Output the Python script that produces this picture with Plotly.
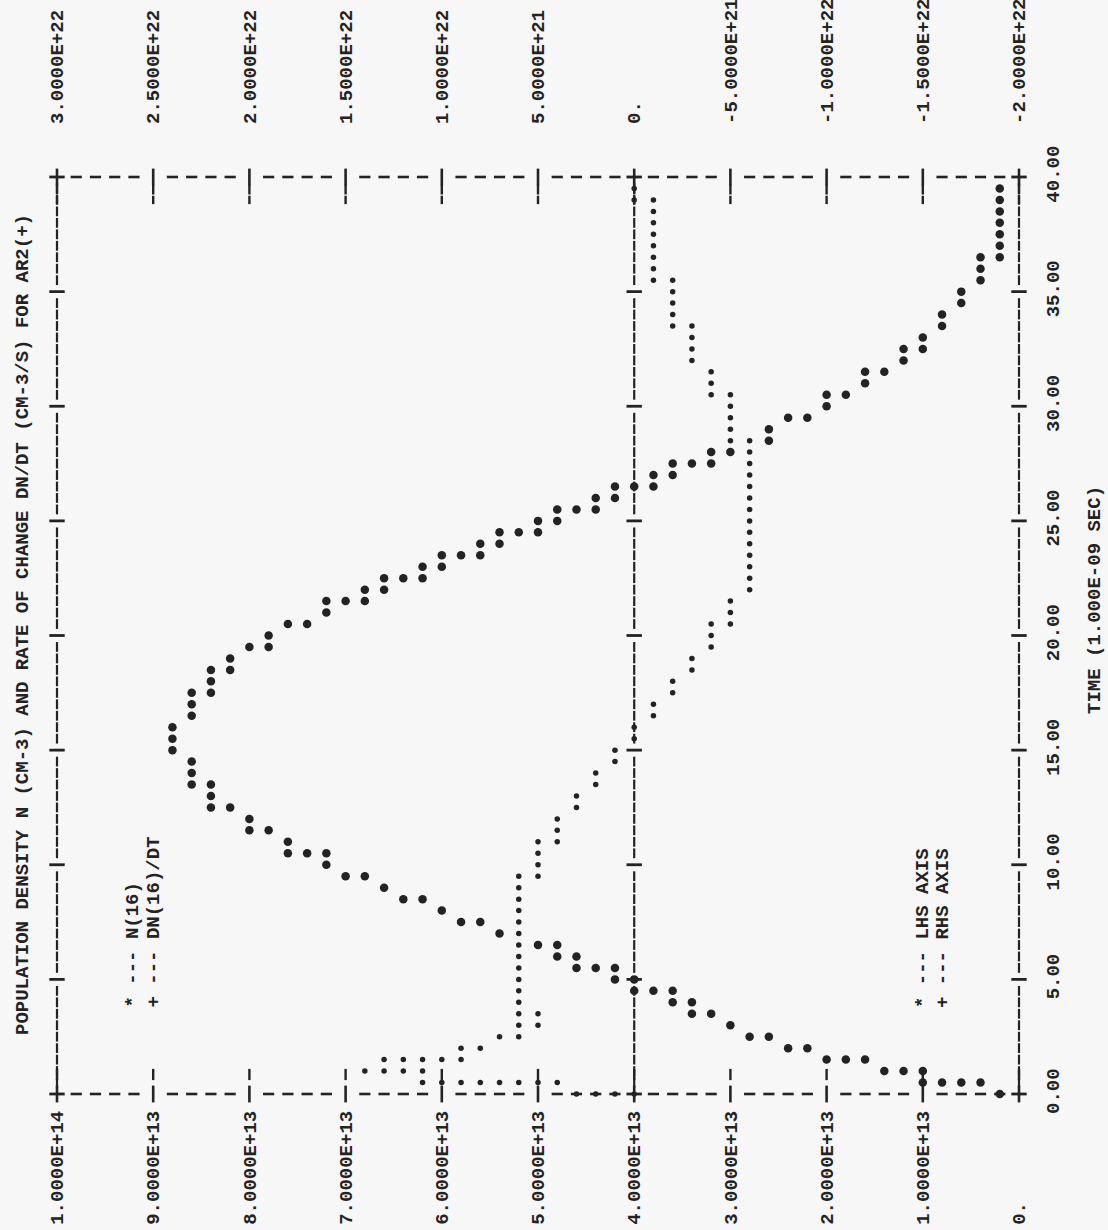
import numpy as np
import plotly.graph_objects as go

# Line-printer plot: population density N(16) and its rate of change for AR2(+).
# Time in units of 1.000E-09 s.  Each printer column (0.5 time units) may carry
# several printed marks, so every mark is listed with its own time.

N_TIME = [
    0.0,
    0.5, 0.5, 0.5, 0.5,
    1.0, 1.0, 1.0,
    1.5, 1.5, 1.5,
    2.0, 2.0,
    2.5, 2.5,
    3.0,
    3.5, 3.5,
    4.0, 4.0,
    4.5, 4.5, 4.5,
    5.0, 5.0,
    5.5, 5.5, 5.5,
    6.0, 6.0,
    6.5, 6.5,
    7.0,
    7.5, 7.5,
    8.0,
    8.5, 8.5,
    9.0,
    9.5, 9.5,
    10.0,
    10.5, 10.5, 10.5,
    11.0,
    11.5, 11.5,
    12.0,
    12.5, 12.5,
    13.0,
    13.5, 13.5,
    14.0,
    14.5,
    15.0,
    15.5,
    16.0,
    16.5,
    17.0,
    17.5, 17.5,
    18.0,
    18.5, 18.5,
    19.0,
    19.5, 19.5,
    20.0,
    20.5, 20.5,
    21.0,
    21.5, 21.5, 21.5,
    22.0, 22.0,
    22.5, 22.5, 22.5,
    23.0, 23.0,
    23.5, 23.5, 23.5,
    24.0, 24.0,
    24.5, 24.5, 24.5,
    25.0, 25.0,
    25.5, 25.5, 25.5,
    26.0, 26.0,
    26.5, 26.5, 26.5,
    27.0, 27.0,
    27.5, 27.5, 27.5,
    28.0, 28.0,
    28.5,
    29.0,
    29.5, 29.5,
    30.0,
    30.5, 30.5,
    31.0,
    31.5, 31.5,
    32.0,
    32.5, 32.5,
    33.0,
    33.5,
    34.0,
    34.5,
    35.0,
    35.5,
    36.0,
    36.5, 36.5,
    37.0, 37.5, 38.0, 38.5, 39.0, 39.5,
]

# N(16) in units of 1.0E+13 cm-3
N_E13 = [
    0.2,
    0.4, 0.6, 0.8, 1.0,
    1.0, 1.2, 1.4,
    1.6, 1.8, 2.0,
    2.2, 2.4,
    2.6, 2.8,
    3.0,
    3.2, 3.4,
    3.4, 3.6,
    3.6, 3.8, 4.0,
    4.0, 4.2,
    4.2, 4.4, 4.6,
    4.6, 4.8,
    4.8, 5.0,
    5.4,
    5.6, 5.8,
    6.0,
    6.2, 6.4,
    6.6,
    6.8, 7.0,
    7.2,
    7.2, 7.4, 7.6,
    7.6,
    7.8, 8.0,
    8.0,
    8.2, 8.4,
    8.4,
    8.4, 8.6,
    8.6,
    8.6,
    8.8,
    8.8,
    8.8,
    8.6,
    8.6,
    8.4, 8.6,
    8.4,
    8.2, 8.4,
    8.2,
    7.8, 8.0,
    7.8,
    7.4, 7.6,
    7.2,
    6.8, 7.0, 7.2,
    6.6, 6.8,
    6.2, 6.4, 6.6,
    6.0, 6.2,
    5.6, 5.8, 6.0,
    5.4, 5.6,
    5.0, 5.2, 5.4,
    4.8, 5.0,
    4.4, 4.6, 4.8,
    4.2, 4.4,
    3.8, 4.0, 4.2,
    3.6, 3.8,
    3.2, 3.4, 3.6,
    3.0, 3.2,
    2.6,
    2.6,
    2.2, 2.4,
    2.0,
    1.8, 2.0,
    1.6,
    1.4, 1.6,
    1.2,
    1.0, 1.2,
    1.0,
    0.8,
    0.8,
    0.6,
    0.6,
    0.4,
    0.4,
    0.2, 0.4,
    0.2, 0.2, 0.2, 0.2, 0.2, 0.2,
]

DNDT_TIME = [
    0.0, 0.0, 0.0, 0.0,
    0.5, 0.5, 0.5, 0.5, 0.5, 0.5, 0.5, 0.5,
    1.0, 1.0, 1.0, 1.0,
    1.5, 1.5, 1.5, 1.5, 1.5,
    2.0, 2.0,
    2.5, 2.5,
    3.0, 3.0,
    3.5, 3.5,
    4.0, 4.5, 5.0, 5.5, 6.0, 6.5, 7.0, 7.5, 8.0, 8.5, 9.0,
    9.5, 9.5,
    10.0, 10.5,
    11.0, 11.0,
    11.5, 12.0,
    12.5, 13.0,
    13.5, 14.0,
    14.5, 15.0,
    15.5, 16.0,
    16.5, 17.0,
    17.5, 18.0,
    18.5, 19.0,
    19.5, 20.0,
    20.5, 20.5,
    21.0, 21.5,
    22.0, 22.5, 23.0, 23.5, 24.0, 24.5, 25.0, 25.5, 26.0, 26.5, 27.0, 27.5, 28.0,
    28.5, 28.5,
    29.0, 29.5, 30.0,
    30.5, 30.5,
    31.0, 31.5,
    32.0, 32.5, 33.0,
    33.5, 33.5,
    34.0, 34.5, 35.0,
    35.5, 35.5,
    36.0, 36.5, 37.0, 37.5, 38.0, 38.5,
    39.0, 39.0,
    39.5,
]

# DN(16)/DT in units of 1.0E+21 cm-3/s
DNDT_E21 = [
    0, 1, 2, 3,
    4, 5, 6, 7, 8, 9, 10, 11,
    11, 12, 13, 14,
    9, 10, 11, 12, 13,
    8, 9,
    6, 7,
    5, 6,
    5, 6,
    6, 6, 6, 6, 6, 6, 6, 6, 6, 6, 6,
    5, 6,
    5, 5,
    4, 5,
    4, 4,
    3, 3,
    2, 2,
    1, 1,
    0, 0,
    -1, -1,
    -2, -2,
    -3, -3,
    -4, -4,
    -4, -5,
    -5, -5,
    -6, -6, -6, -6, -6, -6, -6, -6, -6, -6, -6, -6, -6,
    -6, -5,
    -5, -5, -5,
    -5, -4,
    -4, -4,
    -3, -3, -3,
    -3, -2,
    -2, -2, -2,
    -2, -1,
    -1, -1, -1, -1, -1, -1,
    -1, 0,
    0,
]

LHS_TICKS = [1.0e14, 9.0e13, 8.0e13, 7.0e13, 6.0e13, 5.0e13, 4.0e13, 3.0e13, 2.0e13, 1.0e13, 0.0]
LHS_LABELS = ["1.0000E+14", "9.0000E+13", "8.0000E+13", "7.0000E+13", "6.0000E+13",
              "5.0000E+13", "4.0000E+13", "3.0000E+13", "2.0000E+13", "1.0000E+13", "0."]
RHS_TICKS = [3.0e22, 2.5e22, 2.0e22, 1.5e22, 1.0e22, 5.0e21, 0.0,
             -5.0e21, -1.0e22, -1.5e22, -2.0e22]
RHS_LABELS = ["3.0000E+22", "2.5000E+22", "2.0000E+22", "1.5000E+22", "1.0000E+22",
              "5.0000E+21", "0.", "-5.0000E+21", "-1.0000E+22", "-1.5000E+22", "-2.0000E+22"]
TIME_TICKS = [0, 5, 10, 15, 20, 25, 30, 35, 40]
TIME_LABELS = ["0.00", "5.00", "10.00", "15.00", "20.00", "25.00", "30.00", "35.00", "40.00"]

TITLE = "POPULATION DENSITY N (CM-3) AND RATE OF CHANGE DN/DT (CM-3/S) FOR AR2(+)"
TIME_TITLE = "TIME (1.000E-09 SEC)"

# ---------------------------------------------------------------- styling
FIG_W, FIG_H = 1108, 1230
FRAME_LEFT, FRAME_RIGHT = 57, 1019     # page pixels of the frame
FRAME_TOP, FRAME_BOTTOM = 177, 1094
FONT = "Liberation Mono"
FONT_SIZE = 19
INK = "#232323"
PAPER = "#f7f7f7"
NBSP = "\u00a0"


def paper_x(px):
    return px / FIG_W


def paper_y(py):
    return 1 - py / FIG_H


n_values = [v * 1e13 for v in N_E13]
dndt_values = [v * 1e21 for v in DNDT_E21]

# LHS labels are left-justified on the page: pad the short one.
lhs_text = [t if len(t) == 10 else t + NBSP * (10 - len(t)) for t in LHS_LABELS]

fig = go.Figure()


def marks(x, y, symbol, size, width, xaxis="x"):
    fig.add_trace(go.Scatter(
        x=x, y=y, xaxis=xaxis, yaxis="y", mode="markers", hoverinfo="skip",
        showlegend=False, cliponaxis=False,
        marker=dict(symbol=symbol, size=size, color=INK,
                    line=dict(width=width, color=INK)),
    ))


# frame drawn as printer characters: one mark per column / per line
columns = np.arange(0.0, 40.0 + 0.25, 0.5)
col_tick = np.isclose(np.mod(columns, 5.0), 0.0)
lines = np.arange(0.0, 1.0e14 + 1.0e12, 2.0e12)
frac = np.mod(lines / 1e13, 1.0)
line_tick = np.isclose(frac, 0.0) | np.isclose(frac, 1.0)

for xv in (1.0e14, 4.0e13, 0.0):
    marks([xv] * int((~col_tick).sum()), columns[~col_tick], "line-ns", 7, 2.2)
    marks([xv] * int(col_tick.sum()), columns[col_tick], "line-ew", 11, 2.8)

for tv in (0.0, 40.0):
    marks(lines[~line_tick], [tv] * int((~line_tick).sum()), "line-ew", 8, 2.6)
    marks(lines[line_tick], [tv] * int(line_tick.sum()), "line-ns", 12, 2.6)

marks(lines[line_tick], [0.85] * int(line_tick.sum()), "line-ns", 8, 2.4)
marks(lines[line_tick], [39.45] * int(line_tick.sum()), "line-ns", 7, 2.4)
marks(lines[line_tick], [39.0] * int(line_tick.sum()), "line-ns", 6, 2.4)

# data marks
fig.add_trace(go.Scatter(
    x=n_values, y=N_TIME, xaxis="x", yaxis="y", mode="markers", name="N(16)",
    showlegend=False, cliponaxis=False,
    marker=dict(symbol="circle", size=8.5, color=INK, line=dict(width=0)),
))
fig.add_trace(go.Scatter(
    x=dndt_values, y=DNDT_TIME, xaxis="x2", yaxis="y", mode="markers", name="DN(16)/DT",
    showlegend=False, cliponaxis=False,
    marker=dict(symbol="circle", size=5.5, color=INK, line=dict(width=0)),
))

tick_font = dict(family=FONT, size=FONT_SIZE, color=INK, weight="bold")
common_axis = dict(showgrid=False, zeroline=False, showline=False, ticks="",
                   automargin=False, tickfont=tick_font, fixedrange=True)

fig.update_layout(
    width=FIG_W, height=FIG_H, autosize=False,
    margin=dict(l=0, r=0, t=0, b=0, pad=0),
    paper_bgcolor=PAPER, plot_bgcolor=PAPER,
    font=dict(family=FONT, size=FONT_SIZE, color=INK),
    xaxis=dict(domain=[paper_x(FRAME_LEFT), paper_x(FRAME_RIGHT)],
               range=[1.0e14, 0.0], tickvals=LHS_TICKS, ticktext=lhs_text,
               tickangle=-90, side="bottom", anchor="y", ticklabelstandoff=12,
               **common_axis),
    xaxis2=dict(domain=[paper_x(FRAME_LEFT), paper_x(FRAME_RIGHT)],
                range=[3.0e22, -2.0e22], tickvals=RHS_TICKS, ticktext=RHS_LABELS,
                tickangle=-90, side="top", overlaying="x", anchor="y",
                ticklabelstandoff=52, **common_axis),
    yaxis=dict(domain=[paper_y(FRAME_BOTTOM), paper_y(FRAME_TOP)],
               range=[0.0, 40.0], tickvals=TIME_TICKS, ticktext=TIME_LABELS,
               tickangle=-90, side="right", anchor="x", ticklabelstandoff=20,
               **common_axis),
    showlegend=False,
)

text_font = dict(family=FONT, size=FONT_SIZE, color=INK, weight="bold")


def vtext(text, px, py, yanchor):
    fig.add_annotation(text=text, x=paper_x(px), y=paper_y(py), xref="paper", yref="paper",
                       textangle=-90, showarrow=False, xanchor="center", yanchor=yanchor,
                       font=text_font, align="left", borderpad=0)


vtext(TITLE, 23, 625, "middle")
vtext(TIME_TITLE, 1095, 600, "middle")
vtext("* --- N(16)", 132, 1009, "bottom")
vtext("+ --- DN(16)/DT", 153, 1009, "bottom")
vtext("* --- LHS AXIS", 923, 1009, "bottom")
vtext("+ --- RHS AXIS", 943, 1009, "bottom")

fig.write_html("out.html")
